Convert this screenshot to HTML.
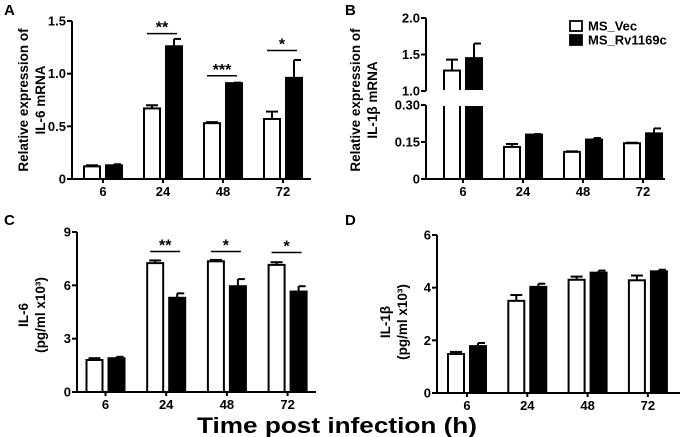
<!DOCTYPE html>
<html><head><meta charset="utf-8"><style>
html,body{margin:0;padding:0;background:#fff}
svg{display:block;font-family:"Liberation Sans",Arial,sans-serif}
</style></head><body>
<svg id="fig" width="680" height="437" viewBox="0 0 680 437"></svg>
<script>
const groups = ["6","24","48","72"];
const aVec = [0.12,0.67,0.53,0.57], aVecErr=[0.01,0.03,0.01,0.07];
const aRv = [0.13,1.26,0.91,0.96], aRvErr=[0.01,0.07,0.005,0.17];
const aTicks=[0,0.5,1.0,1.5], aTickLabels=["0","0.5","1.0","1.5"];
const aSig=["**","***","*"]; const aSigGroups=[1,2,3]; const aSigLevel=[1.38,0.98,1.22];
const bVec=[1.28,0.13,0.11,0.145], bVecErr=[0.15,0.012,0.002,0.002];
const bRv=[1.45,0.18,0.16,0.185], bRvErr=[0.2,0.002,0.006,0.02];
const bTicksLow=[0,0.15,0.30], bTickLowLabels=["0","0.15","0.30"];
const bTicksHigh=[1.0,1.5,2.0], bTickHighLabels=["1.0","1.5","2.0"];
const cVec=[1.8,7.25,7.35,7.15], cVecErr=[0.1,0.15,0.08,0.15];
const cRv=[1.9,5.3,5.95,5.65], cRvErr=[0.08,0.25,0.4,0.3];
const cTicks=[0,3,6,9], cTickLabels=["0","3","6","9"];
const cSig=["**","*","*"]; const cSigGroups=[1,2,3]; const cSigLevel=[7.9,7.9,7.85];
const dVec=[1.48,3.5,4.3,4.28], dVecErr=[0.08,0.22,0.12,0.18];
const dRv=[1.78,4.03,4.57,4.62], dRvErr=[0.12,0.12,0.08,0.06];
const dTicks=[0,2,4,6], dTickLabels=["0","2","4","6"];

const svg=document.getElementById('fig');
const NS="http://www.w3.org/2000/svg";
function mk(tag,attrs,parent,text){const e=document.createElementNS(NS,tag);for(const k in attrs)e.setAttribute(k,attrs[k]);if(text!==undefined)e.textContent=text;(parent||svg).appendChild(e);return e;}

function panel(o){
  const g=mk('g',{});
  
  
  const L=mk('text',{x:o.letterX,y:o.letterY,'font-size':15,'font-weight':'bold'},g,o.letter);
  
  
  const segs=o.segs;
  function yOf(v){for(const s of segs){if(v>=s.v0-1e-9&&v<=s.v1+1e-9)return s.y0+(v-s.v0)/(s.v1-s.v0)*(s.y1-s.y0);}const s=segs[segs.length-1];return v>s.v1?s.y1:segs[0].y0;}
  const xC=i=>o.x0+i*o.dx;
  for(const s of segs){const a=mk('line',{x1:o.ax,x2:o.ax,y1:s.y0+(s===segs[0]?1:0),y2:s.y1,stroke:'#000','stroke-width':2},g);
    }
  const xa=mk('line',{x1:o.ax-1,x2:o.xend,y1:segs[0].y0,y2:segs[0].y0,stroke:'#000','stroke-width':2},g);
  
  o.ticks.forEach((t,i)=>{const y=yOf(t);
    mk('line',{x1:o.ax-5,x2:o.ax,y1:y,y2:y,stroke:'#000','stroke-width':2},g);
    const tl=mk('text',{x:o.ax-6,y:y+4.5,'font-size':13,'font-weight':'bold','text-anchor':'end'},g,o.tickLabels[i]);
    });
  groups.forEach((gname,i)=>{const c=xC(i);
    mk('line',{x1:c,x2:c,y1:segs[0].y0,y2:segs[0].y0+4,stroke:'#000','stroke-width':2},g);
    const tl=mk('text',{x:c,y:segs[0].y0+17,'font-size':13,'font-weight':'bold','text-anchor':'middle'},g,gname);
    
    [[o.vec,o.vecErr,'#fff',-19],[o.rv,o.rvErr,'#000',3]].forEach(([vals,errs,fill,off],k)=>{
      const v=vals[i],e=errs[i];const x=c+off;const w=16;
      const top=yOf(v),base=segs[0].y0;
      const et=yOf(v+e);
      mk('line',{x1:x+w/2,x2:x+w/2,y1:top,y2:et,stroke:'#000','stroke-width':2},g);
      mk('line',{x1:x+w/2-(k?0:6),x2:x+w/2+(k?7:6),y1:et,y2:et,stroke:'#000','stroke-width':2},g);
      if(o.breakGap&&v>segs[0].v1){
        const b1=mk('rect',{x:x,y:segs[0].y1,width:w,height:base-segs[0].y1,fill:fill,stroke:'#000','stroke-width':2},g);
        
        mk('line',{x1:x-1,x2:x+w+1,y1:segs[0].y1,y2:segs[0].y1,stroke:'#fff','stroke-width':2},g);
        const b2=mk('rect',{x:x,y:top,width:w,height:segs[1].y0-top,fill:fill,stroke:'#000','stroke-width':2},g);
        
        mk('line',{x1:x-1,x2:x+w+1,y1:segs[1].y0,y2:segs[1].y0,stroke:'#fff','stroke-width':2},g);
      } else {
        const b=mk('rect',{x:x,y:top,width:w,height:base-top,fill:fill,stroke:'#000','stroke-width':2},g);
        
      }
    });
  });
  (o.sig||[]).forEach((s,j)=>{const c=xC(o.sigGroups[j]);const y=yOf(o.sigLevel[j]);
    mk('line',{x1:c-16,x2:c+14,y1:y,y2:y,stroke:'#000','stroke-width':1.5},g);
    const t=mk('text',{x:c-1,y:y-1,'font-size':16,'font-weight':'bold','text-anchor':'middle'},g,s);
    });
  const yt=mk('text',{transform:`translate(${o.tx},${o.ty}) rotate(-90)`,'font-size':13.5,'font-weight':'bold','text-anchor':'middle'},g);
  
  o.title.forEach((line,i)=>{mk('tspan',{x:0,dy:i?17:0},yt,line);});
  return g;
}

panel({name:'panel-a-il6-mrna',letter:'A',letterX:4,letterY:15,ax:72,xend:311,x0:103,dx:60,
  segs:[{v0:0,v1:1.5,y0:179,y1:21}],ticks:aTicks,tickLabels:aTickLabels,vec:aVec,vecErr:aVecErr,rv:aRv,rvErr:aRvErr,
  sig:aSig,sigGroups:aSigGroups,sigLevel:aSigLevel,tx:28,ty:100,title:['Relative expression of','IL-6 mRNA']});
panel({name:'panel-b-il1b-mrna',letter:'B',letterX:345,letterY:15,ax:426,xend:665,x0:463,dx:60,breakGap:true,
  segs:[{v0:0,v1:0.30,y0:179,y1:105},{v0:1.0,v1:2.0,y0:91,y1:18}],ticks:bTicksLow.concat(bTicksHigh),tickLabels:bTickLowLabels.concat(bTickHighLabels),
  vec:bVec,vecErr:bVecErr,rv:bRv,rvErr:bRvErr,tx:360,ty:100,title:['Relative expression of','IL-1β mRNA']});
panel({name:'panel-c-il6-protein',letter:'C',letterX:4,letterY:225,ax:77,xend:316,x0:105.5,dx:60.7,
  segs:[{v0:0,v1:9,y0:392,y1:232}],ticks:cTicks,tickLabels:cTickLabels,vec:cVec,vecErr:cVecErr,rv:cRv,rvErr:cRvErr,
  sig:cSig,sigGroups:cSigGroups,sigLevel:cSigLevel,tx:28,ty:315,title:['IL-6','(pg/ml x10³)']});
panel({name:'panel-d-il1b-protein',letter:'D',letterX:345,letterY:225,ax:437,xend:680,x0:467,dx:60.3,
  segs:[{v0:0,v1:6,y0:393,y1:235}],ticks:dTicks,tickLabels:dTickLabels,vec:dVec,vecErr:dVecErr,rv:dRv,rvErr:dRvErr,
  tx:390,ty:322,title:['IL-1β','(pg/ml x10³)']});

const lg=mk('g',{});


mk('rect',{x:570,y:21,width:12,height:10,fill:'#fff',stroke:'#000','stroke-width':1.8},lg);
const l1=mk('text',{x:588,y:30.5,'font-size':13,'font-weight':'bold'},lg,'MS_Vec');


mk('rect',{x:570,y:35,width:12,height:10,fill:'#000',stroke:'#000','stroke-width':1.8},lg);
const l2=mk('text',{x:588,y:44.5,'font-size':13,'font-weight':'bold'},lg,'MS_Rv1169c');



const xt=mk('text',{x:197,y:433,'font-size':22,'font-weight':'bold',textLength:280,lengthAdjust:'spacingAndGlyphs'},svg,'Time post infection (h)');


</script>
</body></html>
